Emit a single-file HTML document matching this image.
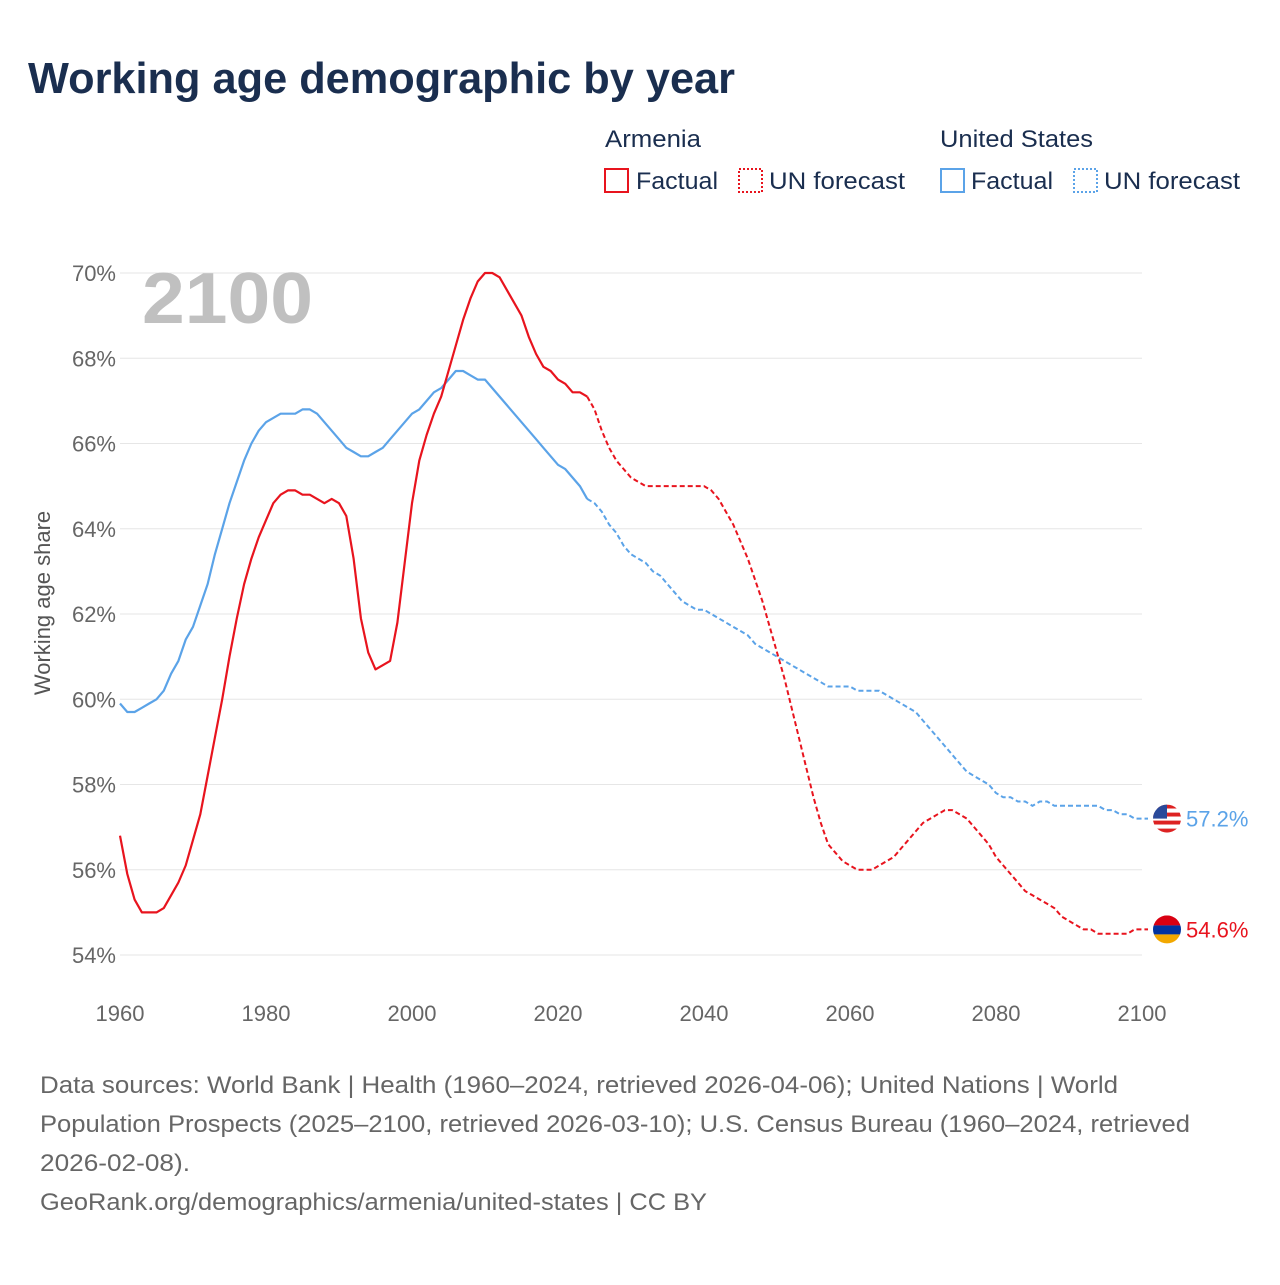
<!DOCTYPE html>
<html><head><meta charset="utf-8"><style>
body{margin:0;background:#fff;font-family:"Liberation Sans",sans-serif;}
svg text{font-family:"Liberation Sans",sans-serif;}
</style></head><body>
<svg id="chart" width="1280" height="1280" viewBox="0 0 1280 1280">
<text x="28" y="93" font-size="44" font-weight="bold" fill="#1a2e4f" textLength="707" lengthAdjust="spacingAndGlyphs">Working age demographic by year</text>
<g>
<text x="605" y="147" font-size="24" fill="#1a2e4f" textLength="96" lengthAdjust="spacingAndGlyphs">Armenia</text>
<rect x="605" y="169" width="23" height="23" fill="none" stroke="#e8141e" stroke-width="2"/>
<text x="636" y="189" font-size="24" fill="#1a2e4f" textLength="82" lengthAdjust="spacingAndGlyphs">Factual</text>
<rect x="739" y="169" width="23" height="23" fill="none" stroke="#e8141e" stroke-width="2" stroke-dasharray="2,2"/>
<text x="769" y="189" font-size="24" fill="#1a2e4f" textLength="136" lengthAdjust="spacingAndGlyphs">UN forecast</text>
<text x="940" y="147" font-size="24" fill="#1a2e4f" textLength="153" lengthAdjust="spacingAndGlyphs">United States</text>
<rect x="941" y="169" width="23" height="23" fill="none" stroke="#5ba3e8" stroke-width="2"/>
<text x="971" y="189" font-size="24" fill="#1a2e4f" textLength="82" lengthAdjust="spacingAndGlyphs">Factual</text>
<rect x="1074" y="169" width="23" height="23" fill="none" stroke="#5ba3e8" stroke-width="2" stroke-dasharray="2,2"/>
<text x="1104" y="189" font-size="24" fill="#1a2e4f" textLength="136" lengthAdjust="spacingAndGlyphs">UN forecast</text>
</g>
<g id="grid"></g>
<text x="142" y="323" font-size="72" font-weight="bold" fill="#c0c0c0" textLength="171" lengthAdjust="spacingAndGlyphs">2100</text>
<text transform="translate(50,603) rotate(-90)" text-anchor="middle" font-size="22" fill="#555">Working age share</text>
<g id="series"></g>
<g id="labels"></g>
<g font-size="24" fill="#666">
<text x="40" y="1093" textLength="1078" lengthAdjust="spacingAndGlyphs">Data sources: World Bank | Health (1960–2024, retrieved 2026-04-06); United Nations | World</text>
<text x="40" y="1132" textLength="1150" lengthAdjust="spacingAndGlyphs">Population Prospects (2025–2100, retrieved 2026-03-10); U.S. Census Bureau (1960–2024, retrieved</text>
<text x="40" y="1171" textLength="150" lengthAdjust="spacingAndGlyphs">2026-02-08).</text>
<text x="40" y="1210" textLength="667" lengthAdjust="spacingAndGlyphs">GeoRank.org/demographics/armenia/united-states | CC BY</text>
</g>
</svg>
<script>
const startYear = 1960;
const armenia = [56.8,55.9,55.3,55.0,55.0,55.0,55.1,55.4,55.7,56.1,56.7,57.3,58.2,59.1,60.0,61.0,61.9,62.7,63.3,63.8,64.2,64.6,64.8,64.9,64.9,64.8,64.8,64.7,64.6,64.7,64.6,64.3,63.3,61.9,61.1,60.7,60.8,60.9,61.8,63.2,64.6,65.6,66.2,66.7,67.1,67.7,68.3,68.9,69.4,69.8,70.0,70.0,69.9,69.6,69.3,69.0,68.5,68.1,67.8,67.7,67.5,67.4,67.2,67.2,67.1,
66.8,66.3,65.9,65.6,65.4,65.2,65.1,65.0,65.0,65.0,65.0,65.0,65.0,65.0,65.0,65.0,64.9,64.7,64.4,64.1,63.7,63.3,62.8,62.3,61.7,61.1,60.5,59.8,59.1,58.4,57.7,57.1,56.6,56.4,56.2,56.1,56.0,56.0,56.0,56.1,56.2,56.3,56.5,56.7,56.9,57.1,57.2,57.3,57.4,57.4,57.3,57.2,57.0,56.8,56.6,56.3,56.1,55.9,55.7,55.5,55.4,55.3,55.2,55.1,54.9,54.8,54.7,54.6,54.6,54.5,54.5,54.5,54.5,54.5,54.6,54.6];
const usa = [59.9,59.7,59.7,59.8,59.9,60.0,60.2,60.6,60.9,61.4,61.7,62.2,62.7,63.4,64.0,64.6,65.1,65.6,66.0,66.3,66.5,66.6,66.7,66.7,66.7,66.8,66.8,66.7,66.5,66.3,66.1,65.9,65.8,65.7,65.7,65.8,65.9,66.1,66.3,66.5,66.7,66.8,67.0,67.2,67.3,67.5,67.7,67.7,67.6,67.5,67.5,67.3,67.1,66.9,66.7,66.5,66.3,66.1,65.9,65.7,65.5,65.4,65.2,65.0,64.7,
64.6,64.4,64.1,63.9,63.6,63.4,63.3,63.2,63.0,62.9,62.7,62.5,62.3,62.2,62.1,62.1,62.0,61.9,61.8,61.7,61.6,61.5,61.3,61.2,61.1,61.0,60.9,60.8,60.7,60.6,60.5,60.4,60.3,60.3,60.3,60.3,60.2,60.2,60.2,60.2,60.1,60.0,59.9,59.8,59.7,59.5,59.3,59.1,58.9,58.7,58.5,58.3,58.2,58.1,58.0,57.8,57.7,57.7,57.6,57.6,57.5,57.6,57.6,57.5,57.5,57.5,57.5,57.5,57.5,57.5,57.4,57.4,57.3,57.3,57.2,57.2];
const lastFactualYear = 2024;
const yTicks = [54,56,58,60,62,64,66,68,70];
const xTicks = [1960,1980,2000,2020,2040,2060,2080,2100];
const NS="http://www.w3.org/2000/svg";
const x = yr => 120 + (yr-1960)*(1142-120)/140;
const y = v => 955 - (v-54)*(955-273)/16;
function mk(tag, attrs, parent){const e=document.createElementNS(NS,tag);for(const k in attrs)e.setAttribute(k,attrs[k]);parent.appendChild(e);return e;}
const grid=document.getElementById('grid');
yTicks.forEach(t=>{
  const l=mk('line',{x1:120,x2:1142,y1:y(t),y2:y(t),stroke:'#e6e6e6','stroke-width':1},grid);
  
  
  const tx=mk('text',{x:116,y:y(t)+8,'text-anchor':'end','font-size':22,fill:'#666'},grid);
  tx.textContent=t+'%';
  
  
});
xTicks.forEach(t=>{
  const tx=mk('text',{x:x(t),y:1021,'text-anchor':'middle','font-size':22,fill:'#666'},grid);
  tx.textContent=t;
  
  
});
const ser=document.getElementById('series');
function draw(arr,color,name){
  const split=lastFactualYear-startYear;
  const pts=i=>x(startYear+i).toFixed(1)+','+y(arr[i]).toFixed(1);
  let a=[],b=[];
  arr.forEach((v,i)=>{if(i<=split)a.push(pts(i));if(i>=split)b.push(pts(i));});
  const p1=mk('polyline',{points:a.join(' '),fill:'none',stroke:color,'stroke-width':2.2,'stroke-linejoin':'round'},ser);
  
  
  b.push((x(2100)+6).toFixed(1)+','+y(arr[arr.length-1]).toFixed(1));
  const p2=mk('polyline',{points:b.join(' '),fill:'none',stroke:color,'stroke-width':2,'stroke-dasharray':'5,3'},ser);
  
  
}
draw(usa,'#5ba3e8','us');
draw(armenia,'#e8141e','armenia');
const lab=document.getElementById('labels');
const uy=y(usa[usa.length-1]), ay=y(armenia[armenia.length-1]), fx=1167;
const defs=mk('defs',{},lab);
const c1=mk('clipPath',{id:'cu'},defs);mk('circle',{cx:fx,cy:uy,r:14},c1);
const c2=mk('clipPath',{id:'ca'},defs);mk('circle',{cx:fx,cy:ay,r:14},c2);
const gu=mk('g',{'clip-path':'url(#cu)'},lab);


for(let i=0;i<7;i++){mk('rect',{x:fx-14,y:uy-14+i*4,width:28,height:4,fill:i%2?'#fff':'#d22'},gu);}
mk('rect',{x:fx-14,y:uy-14,width:14,height:14,fill:'#2a4a9a'},gu);
const ga=mk('g',{'clip-path':'url(#ca)'},lab);


mk('rect',{x:fx-14,y:ay-14,width:28,height:10,fill:'#d90012'},ga);
mk('rect',{x:fx-14,y:ay-4,width:28,height:9,fill:'#0033a0'},ga);
mk('rect',{x:fx-14,y:ay+5,width:28,height:10,fill:'#f2a800'},ga);
const t1=mk('text',{x:1186,y:uy+8,'font-size':22,fill:'#5ba3e8'},lab);
t1.textContent=usa[usa.length-1].toFixed(1)+'%';


const t2=mk('text',{x:1186,y:ay+8,'font-size':22,fill:'#e8141e'},lab);
t2.textContent=armenia[armenia.length-1].toFixed(1)+'%';


</script>
</body></html>
